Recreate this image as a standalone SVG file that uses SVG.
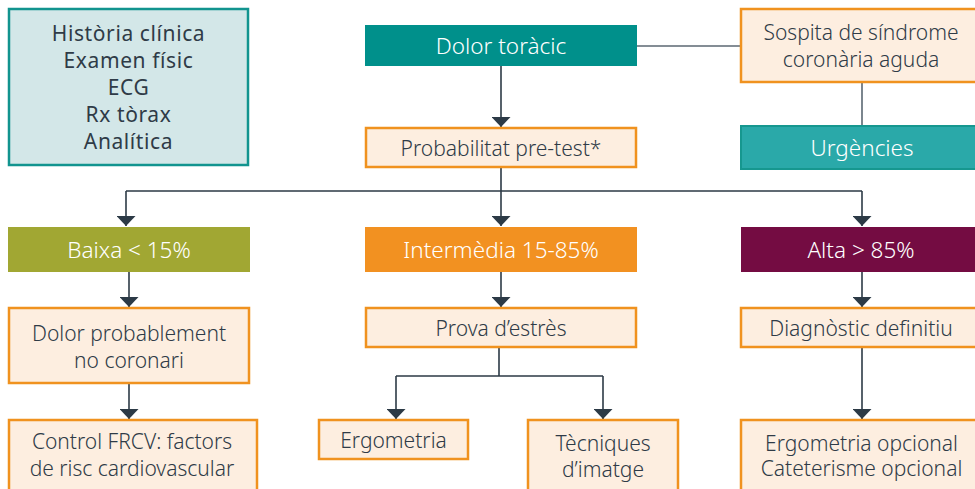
<svg xmlns="http://www.w3.org/2000/svg" width="975" height="489" viewBox="0 0 975 489">
<defs>
<marker id="arr" viewBox="0 0 10 19" refX="10" refY="9.5" markerWidth="10" markerHeight="19" markerUnits="userSpaceOnUse" orient="auto">
<path d="M0,0 L10,9.5 L0,19 Z" fill="#2c3a46"/>
</marker>
<style>
text{font-family:"Noto Sans","Open Sans","Liberation Sans",sans-serif;text-anchor:middle;}
.t{font-size:21px;fill:#2f3b47;font-weight:300;}
.w{font-size:22.5px;fill:#ffffff;font-weight:300;}
.info{font-size:21px;fill:#2f3b47;letter-spacing:0.6px;font-weight:400;}
.ob{fill:#fdeee0;stroke:#f0921f;stroke-width:2.5;}
.c{fill:none;stroke:#2c3a46;stroke-width:1.6;}
.a{marker-end:url(#arr);}
.g{fill:none;stroke:#5b6772;stroke-width:1.6;}
</style>
</defs>
<rect width="975" height="489" fill="#ffffff"/>
<g id="connectors">
<path class="c a" d="M501,66 V127"/>
<path class="g" d="M637,46 H741"/>
<path class="g" d="M862,82 V126"/>
<path class="c" d="M501,167 V191 M126,191 H862"/>
<path class="c a" d="M126,191 V226"/>
<path class="c a" d="M501,191 V226"/>
<path class="c a" d="M862,191 V226"/>
<path class="c a" d="M129,272 V307"/>
<path class="c a" d="M129,383 V419"/>
<path class="c a" d="M501,272 V307"/>
<path class="c" d="M499,347 V376 M396,376 H603"/>
<path class="c a" d="M396,376 V419"/>
<path class="c a" d="M603,376 V419"/>
<path class="c a" d="M862,272 V307"/>
<path class="c a" d="M862,347 V419"/>
</g>
<g id="info">
<rect x="9" y="9" width="239" height="156" fill="#d3e7e8" stroke="#12948f" stroke-width="2.5"/>
<text class="info" x="128.5" y="41">Història clínica</text>
<text class="info" x="128.5" y="68">Examen físic</text>
<text class="info" x="128.5" y="95">ECG</text>
<text class="info" x="128.5" y="122">Rx tòrax</text>
<text class="info" x="128.5" y="149">Analítica</text>
</g>
<g id="dolor">
<rect x="365" y="25" width="272" height="41" fill="#00908b"/>
<text class="w" x="501" y="54">Dolor toràcic</text>
</g>
<g id="sospita">
<rect class="ob" x="741" y="9" width="240" height="73"/>
<text class="t" x="861" y="40">Sospita de síndrome</text>
<text class="t" x="861" y="67">coronària aguda</text>
</g>
<g id="urgencies">
<rect x="741" y="126" width="240" height="43" fill="#2aa9a9" stroke="#16978f" stroke-width="2"/>
<text class="w" x="862" y="156">Urgències</text>
</g>
<g id="prob">
<rect class="ob" x="366" y="128" width="270" height="39"/>
<text class="t" x="501" y="156">Probabilitat pre-test*</text>
</g>
<g id="baixa">
<rect x="8" y="227" width="242" height="45" fill="#a1a733"/>
<text class="w" x="129" y="258">Baixa &lt; 15%</text>
</g>
<g id="intermedia">
<rect x="365" y="227" width="272" height="45" fill="#f29121"/>
<text class="w" x="501" y="258">Intermèdia 15-85%</text>
</g>
<g id="alta">
<rect x="741" y="227" width="240" height="45" fill="#740c42"/>
<text class="w" x="861" y="258">Alta &gt; 85%</text>
</g>
<g id="dolorprob">
<rect class="ob" x="9" y="308" width="240" height="75"/>
<text class="t" x="129" y="341">Dolor probablement</text>
<text class="t" x="129" y="367.5">no coronari</text>
</g>
<g id="control">
<rect class="ob" x="9" y="420" width="248" height="80"/>
<text class="t" x="132" y="449">Control FRCV: factors</text>
<text class="t" x="132" y="476">de risc cardiovascular</text>
</g>
<g id="prova">
<rect class="ob" x="366" y="308" width="270" height="39"/>
<text class="t" x="501" y="336">Prova d’estrès</text>
</g>
<g id="ergometria">
<rect class="ob" x="319" y="420" width="149" height="39"/>
<text class="t" x="393.5" y="448">Ergometria</text>
</g>
<g id="tecniques">
<rect class="ob" x="528" y="420" width="150" height="80"/>
<text class="t" x="603" y="451">Tècniques</text>
<text class="t" x="603" y="477">d’imatge</text>
</g>
<g id="diag">
<rect class="ob" x="741" y="308" width="240" height="39"/>
<text class="t" x="861" y="336">Diagnòstic definitiu</text>
</g>
<g id="ergoopc">
<rect class="ob" x="741" y="420" width="240" height="80"/>
<text class="t" x="861.5" y="450.5">Ergometria opcional</text>
<text class="t" x="861.5" y="476">Cateterisme opcional</text>
</g>
</svg>
